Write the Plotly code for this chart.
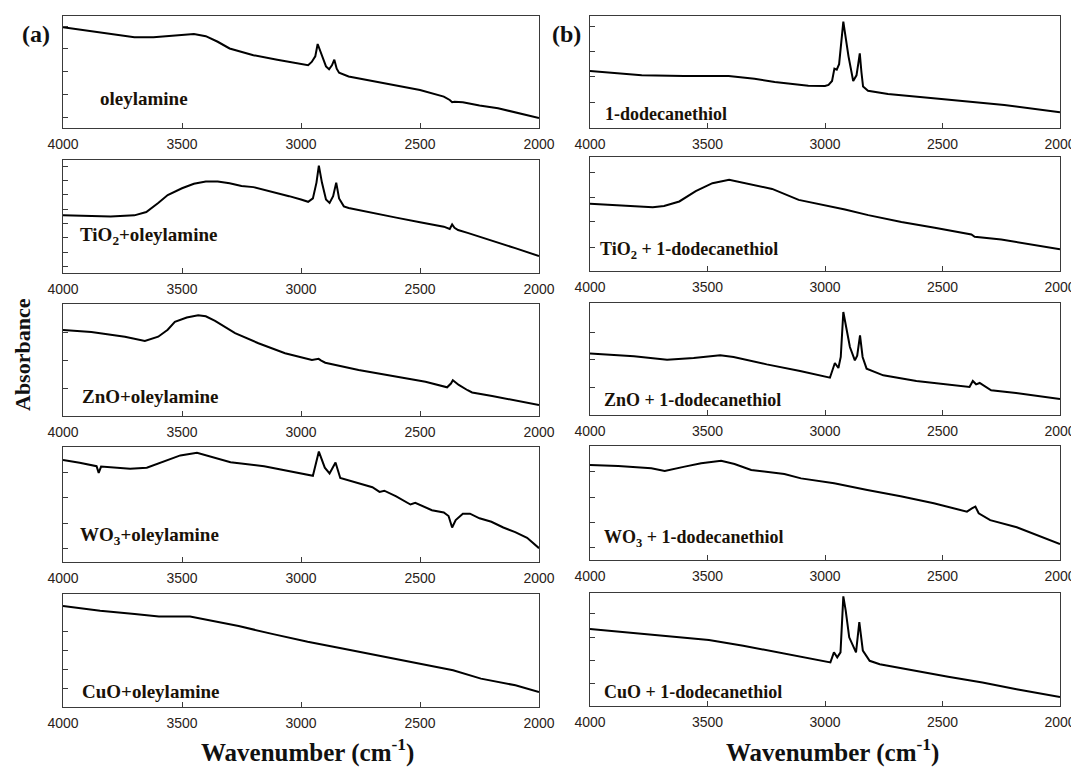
import plotly.graph_objects as go

W, H = 1079, 769
OFF = 8  # page body margin of the browser

# ---------------- data (wavenumber cm-1, absorbance a.u.) ----------------
wn_a1 = [4000, 3900, 3800, 3700, 3620, 3550, 3450, 3400, 3350, 3300, 3200, 3100, 3000, 2970, 2955, 2940,
         2930, 2915, 2895, 2882, 2870, 2860, 2850, 2840, 2800, 2700, 2600, 2500, 2400, 2375, 2365, 2355,
         2320, 2250, 2172, 2100, 2000]
ab_a1 = [90, 87, 84, 81, 81, 82, 84, 82, 77, 71, 65, 61, 57, 56, 59, 64,
         75, 66, 55, 52.4, 56, 61, 53, 49.4, 46, 42, 38, 34, 28, 25, 23, 23.5,
         23, 20, 17.6, 14, 9]

wn_a2 = [4000, 3900, 3800, 3700, 3650, 3600, 3560, 3500, 3450, 3400, 3350, 3300, 3250, 3200, 3150, 3100,
         3050, 3000, 2970, 2950, 2935, 2925, 2912, 2895, 2880, 2865, 2852, 2840, 2820, 2800, 2700, 2600,
         2500, 2400, 2375, 2365, 2355, 2340, 2300, 2200, 2100, 2000]
ab_a2 = [51, 50.5, 50, 51, 54, 62, 69, 75, 79, 81, 81, 79.5, 77, 76, 73.5, 71,
         68, 65, 63, 66, 80, 95, 80, 65, 62, 68, 80, 66, 59, 57.5, 53, 49,
         45, 41, 39, 43, 40, 38, 35.5, 29, 22, 15]

wn_a3 = [4000, 3881, 3740, 3656, 3600, 3560, 3530, 3480, 3432, 3400, 3361, 3320, 3277, 3179, 3067, 2954,
         2935, 2926, 2915, 2898, 2758, 2618, 2477, 2386, 2370, 2362, 2350, 2337, 2300, 2281, 2197, 2100,
         2000]
ab_a3 = [76.8, 75, 70.8, 67, 70.8, 77, 84, 88, 90, 89, 85, 80, 74, 65, 56, 50,
         50.5, 51, 49.5, 47.6, 41, 35.7, 30.6, 25.6, 29, 32, 30, 27.7, 23, 21, 17.9, 14,
         9.8]

wn_a4 = [4000, 3930, 3859, 3850, 3840, 3718, 3648, 3577, 3507, 3437, 3366, 3296, 3155, 3056, 3000, 2950,
         2925, 2900, 2880, 2855, 2835, 2800, 2700, 2670, 2650, 2600, 2540, 2520, 2450, 2400, 2380, 2365,
         2350, 2320, 2290, 2250, 2200, 2150, 2100, 2050, 2000]
ab_a4 = [88.6, 86.3, 83.3, 77.5, 83, 81, 82, 87.7, 92.7, 95, 90.7, 86.8, 83.3, 79, 77, 75,
         96, 82, 77, 86.5, 73, 71, 65, 61, 62, 57, 50, 51.5, 45, 43, 40, 30,
         36.5, 42, 42, 38, 35, 30, 26, 21, 12]

wn_a5 = [4000, 3844, 3699, 3597, 3466, 3379, 3262, 3117, 2972, 2826, 2681, 2535, 2361, 2244, 2099, 2000]
ab_a5 = [89.3, 85.2, 82.2, 80, 80, 76.3, 71.6, 64.5, 57.7, 51.8, 45.9, 39.3, 32.5, 25.1, 19.2, 13.3]

wn_b1 = [4000, 3780, 3600, 3410, 3300, 3214, 3071, 3000, 2985, 2970, 2960, 2950, 2940, 2930, 2922, 2915,
         2900, 2880, 2866, 2858, 2852, 2845, 2838, 2817, 2732, 2505, 2237, 2000]
ab_b1 = [51, 47, 46.5, 46.4, 44, 41, 37.8, 37.5, 38.5, 42, 53, 52, 57, 80, 95, 85,
         64, 42, 47, 58, 66.7, 50, 37, 33.3, 30.4, 26, 20.5, 14]

wn_b2 = [4000, 3846, 3733, 3685, 3620, 3550, 3479, 3408, 3338, 3225, 3112, 3000, 2915, 2816, 2675, 2533,
         2377, 2363, 2250, 2000]
ab_b2 = [59, 57, 56, 57, 61, 70, 77, 80, 77, 72, 62.4, 58, 54, 49, 43, 38,
         32, 30, 27.7, 19]

wn_b3 = [4000, 3813, 3672, 3559, 3446, 3389, 3248, 3106, 2979, 2967, 2958, 2943, 2933, 2922, 2908, 2894,
         2873, 2863, 2851, 2840, 2823, 2752, 2611, 2385, 2371, 2357, 2342, 2293, 2187, 2000]
ab_b3 = [54.8, 52.4, 49.4, 51, 53.3, 51.8, 45.2, 39.3, 33.3, 40, 46.4, 42, 51.8, 92, 75.6, 60.7,
         48.8, 53, 71, 51.8, 41.4, 35.4, 30.4, 25, 30.4, 27.4, 28.6, 22, 19.6, 14.3]

wn_b4 = [4000, 3880, 3739, 3682, 3597, 3527, 3442, 3385, 3314, 3173, 3102, 2961, 2820, 2678, 2537, 2396,
         2375, 2360, 2346, 2297, 2184, 2000]
ab_b4 = [83.3, 82.5, 80.4, 78, 81.9, 84.8, 87, 84.2, 79, 75.4, 71.6, 67.3, 61.4, 56, 49.7, 42.4,
         45.3, 46.8, 41, 35, 28.7, 14]

wn_b5 = [4000, 3785, 3494, 3348, 3203, 3057, 2977, 2962, 2948, 2934, 2922, 2912, 2897, 2868, 2854, 2839,
         2810, 2767, 2621, 2476, 2330, 2185, 2000]
ab_b5 = [68.2, 63.8, 58.5, 53.4, 47.5, 42.1, 38.6, 47.5, 43, 47.5, 97, 84.6, 60.8, 47.5, 74.2, 49,
         40, 37, 31.2, 25.8, 20.8, 14.8, 8]

labels_a = ["oleylamine", "TiO<sub>2</sub>+oleylamine", "ZnO+oleylamine",
            "WO<sub>3</sub>+oleylamine", "CuO+oleylamine"]
labels_b = ["1-dodecanethiol", "TiO<sub>2</sub> + 1-dodecanethiol", "ZnO + 1-dodecanethiol",
            "WO<sub>3</sub> + 1-dodecanethiol", "CuO + 1-dodecanethiol"]
x_ticks = [4000, 3500, 3000, 2500, 2000]
x_ticktext = ["4000", "3500", "3000", "2500", "2000"]

series_a = [(wn_a1, ab_a1), (wn_a2, ab_a2), (wn_a3, ab_a3), (wn_a4, ab_a4), (wn_a5, ab_a5)]
series_b = [(wn_b1, ab_b1), (wn_b2, ab_b2), (wn_b3, ab_b3), (wn_b4, ab_b4), (wn_b5, ab_b5)]

# ---------------- layout geometry (screen pixels) ----------------
col_x = {"a": (63, 539), "b": (590, 1060)}
rows = {"a": [(16, 128), (160, 273), (304, 416), (447, 562), (594, 707)],
        "b": [(16, 128), (157, 271), (303, 415), (446, 560), (593, 706)]}
ytick_sets = {"a": [[9.8, 30.1, 50.4, 70.7, 91], [5.6, 18.3, 31, 43.7, 56.4, 69.1, 81.8, 94.5],
                    [25, 50, 75], [11.8, 33.8, 55.8, 77.8], [16.6, 33.3, 50, 66.7]],
              "b": [[22.6, 46, 68, 91], [21, 43, 64.7, 86], [24.4, 49.4, 74],
                    [11, 32.7, 55, 77.5], [19.9, 40.7, 60.8, 81.6]]}
label_pos = {"a": [(98, 98), (78, 236), (80, 397), (78, 536), (80, 691)],
             "b": [(603, 114), (598, 250), (602, 400), (602, 538), (602, 692)]}


def px(x):
    return (x - OFF) / W


def py(y):
    return 1 - (y - OFF) / H


fig = go.Figure()
layout = dict(width=W, height=H, margin=dict(l=0, r=0, t=0, b=0, pad=0), autosize=False,
              paper_bgcolor="white", plot_bgcolor="white", showlegend=False)
annotations = []
axcol = "#3a3a3a"
k = 0
for col, series, labels in (("a", series_a, labels_a), ("b", series_b, labels_b)):
    for r in range(5):
        k += 1
        xs, ys = series[r]
        sfx = "" if k == 1 else str(k)
        fig.add_trace(go.Scatter(x=xs, y=ys, mode="lines",
                                 line=dict(color="black", width=2),
                                 xaxis="x" + sfx, yaxis="y" + sfx, hoverinfo="skip"))
        top, bot = rows[col][r]
        x0, x1 = col_x[col]
        layout["xaxis" + sfx] = dict(
            domain=[px(x0), px(x1)], anchor="y" + sfx, range=[4000, 2000], automargin=False,
            tickvals=x_ticks, ticktext=x_ticktext, ticks="inside", ticklen=5, tickwidth=1.3,
            tickcolor=axcol, showline=True, mirror=True, linecolor=axcol, linewidth=1.3,
            showgrid=False, zeroline=False, ticklabelstandoff=3,
            tickfont=dict(family="Liberation Sans", size=14, color="#2a2218"))
        layout["yaxis" + sfx] = dict(
            domain=[py(bot), py(top)], anchor="x" + sfx, range=[0, 100], automargin=False,
            tickvals=ytick_sets[col][r], showticklabels=False, ticks="inside", ticklen=5,
            tickwidth=1.3, tickcolor=axcol, showline=True, mirror=True, linecolor=axcol,
            linewidth=1.3, showgrid=False, zeroline=False)
        lx, ly = label_pos[col][r]
        annotations.append(dict(
            text="<b>" + labels[r] + "</b>", x=px(lx), y=py(ly), xref="paper", yref="paper",
            xanchor="left", yanchor="middle", showarrow=False,
            font=dict(family="Liberation Serif", size=19 if col == "a" else 18, color="#1a1208")))

annotations += [
    dict(text="<b>(a)</b>", x=px(36), y=py(34), xref="paper", yref="paper", showarrow=False,
         xanchor="center", yanchor="middle", font=dict(family="Liberation Serif", size=24, color="#111")),
    dict(text="<b>(b)</b>", x=px(566), y=py(34), xref="paper", yref="paper", showarrow=False,
         xanchor="center", yanchor="middle", font=dict(family="Liberation Serif", size=24, color="#111")),
    dict(text="<b>Absorbance</b>", x=px(22), y=py(355), xref="paper", yref="paper", showarrow=False,
         textangle=-90, xanchor="center", yanchor="middle",
         font=dict(family="Liberation Serif", size=22, color="#111")),
    dict(text="<b>Wavenumber (cm<sup>-1</sup>)</b>", x=px(307), y=py(750), xref="paper", yref="paper",
         showarrow=False, xanchor="center", yanchor="middle",
         font=dict(family="Liberation Serif", size=25, color="#111")),
    dict(text="<b>Wavenumber (cm<sup>-1</sup>)</b>", x=px(832), y=py(750), xref="paper", yref="paper",
         showarrow=False, xanchor="center", yanchor="middle",
         font=dict(family="Liberation Serif", size=25, color="#111")),
]
layout["annotations"] = annotations
fig.update_layout(**layout)
fig.write_html("out.html", config={"responsive": False},
              default_width="%dpx" % W, default_height="%dpx" % H)
